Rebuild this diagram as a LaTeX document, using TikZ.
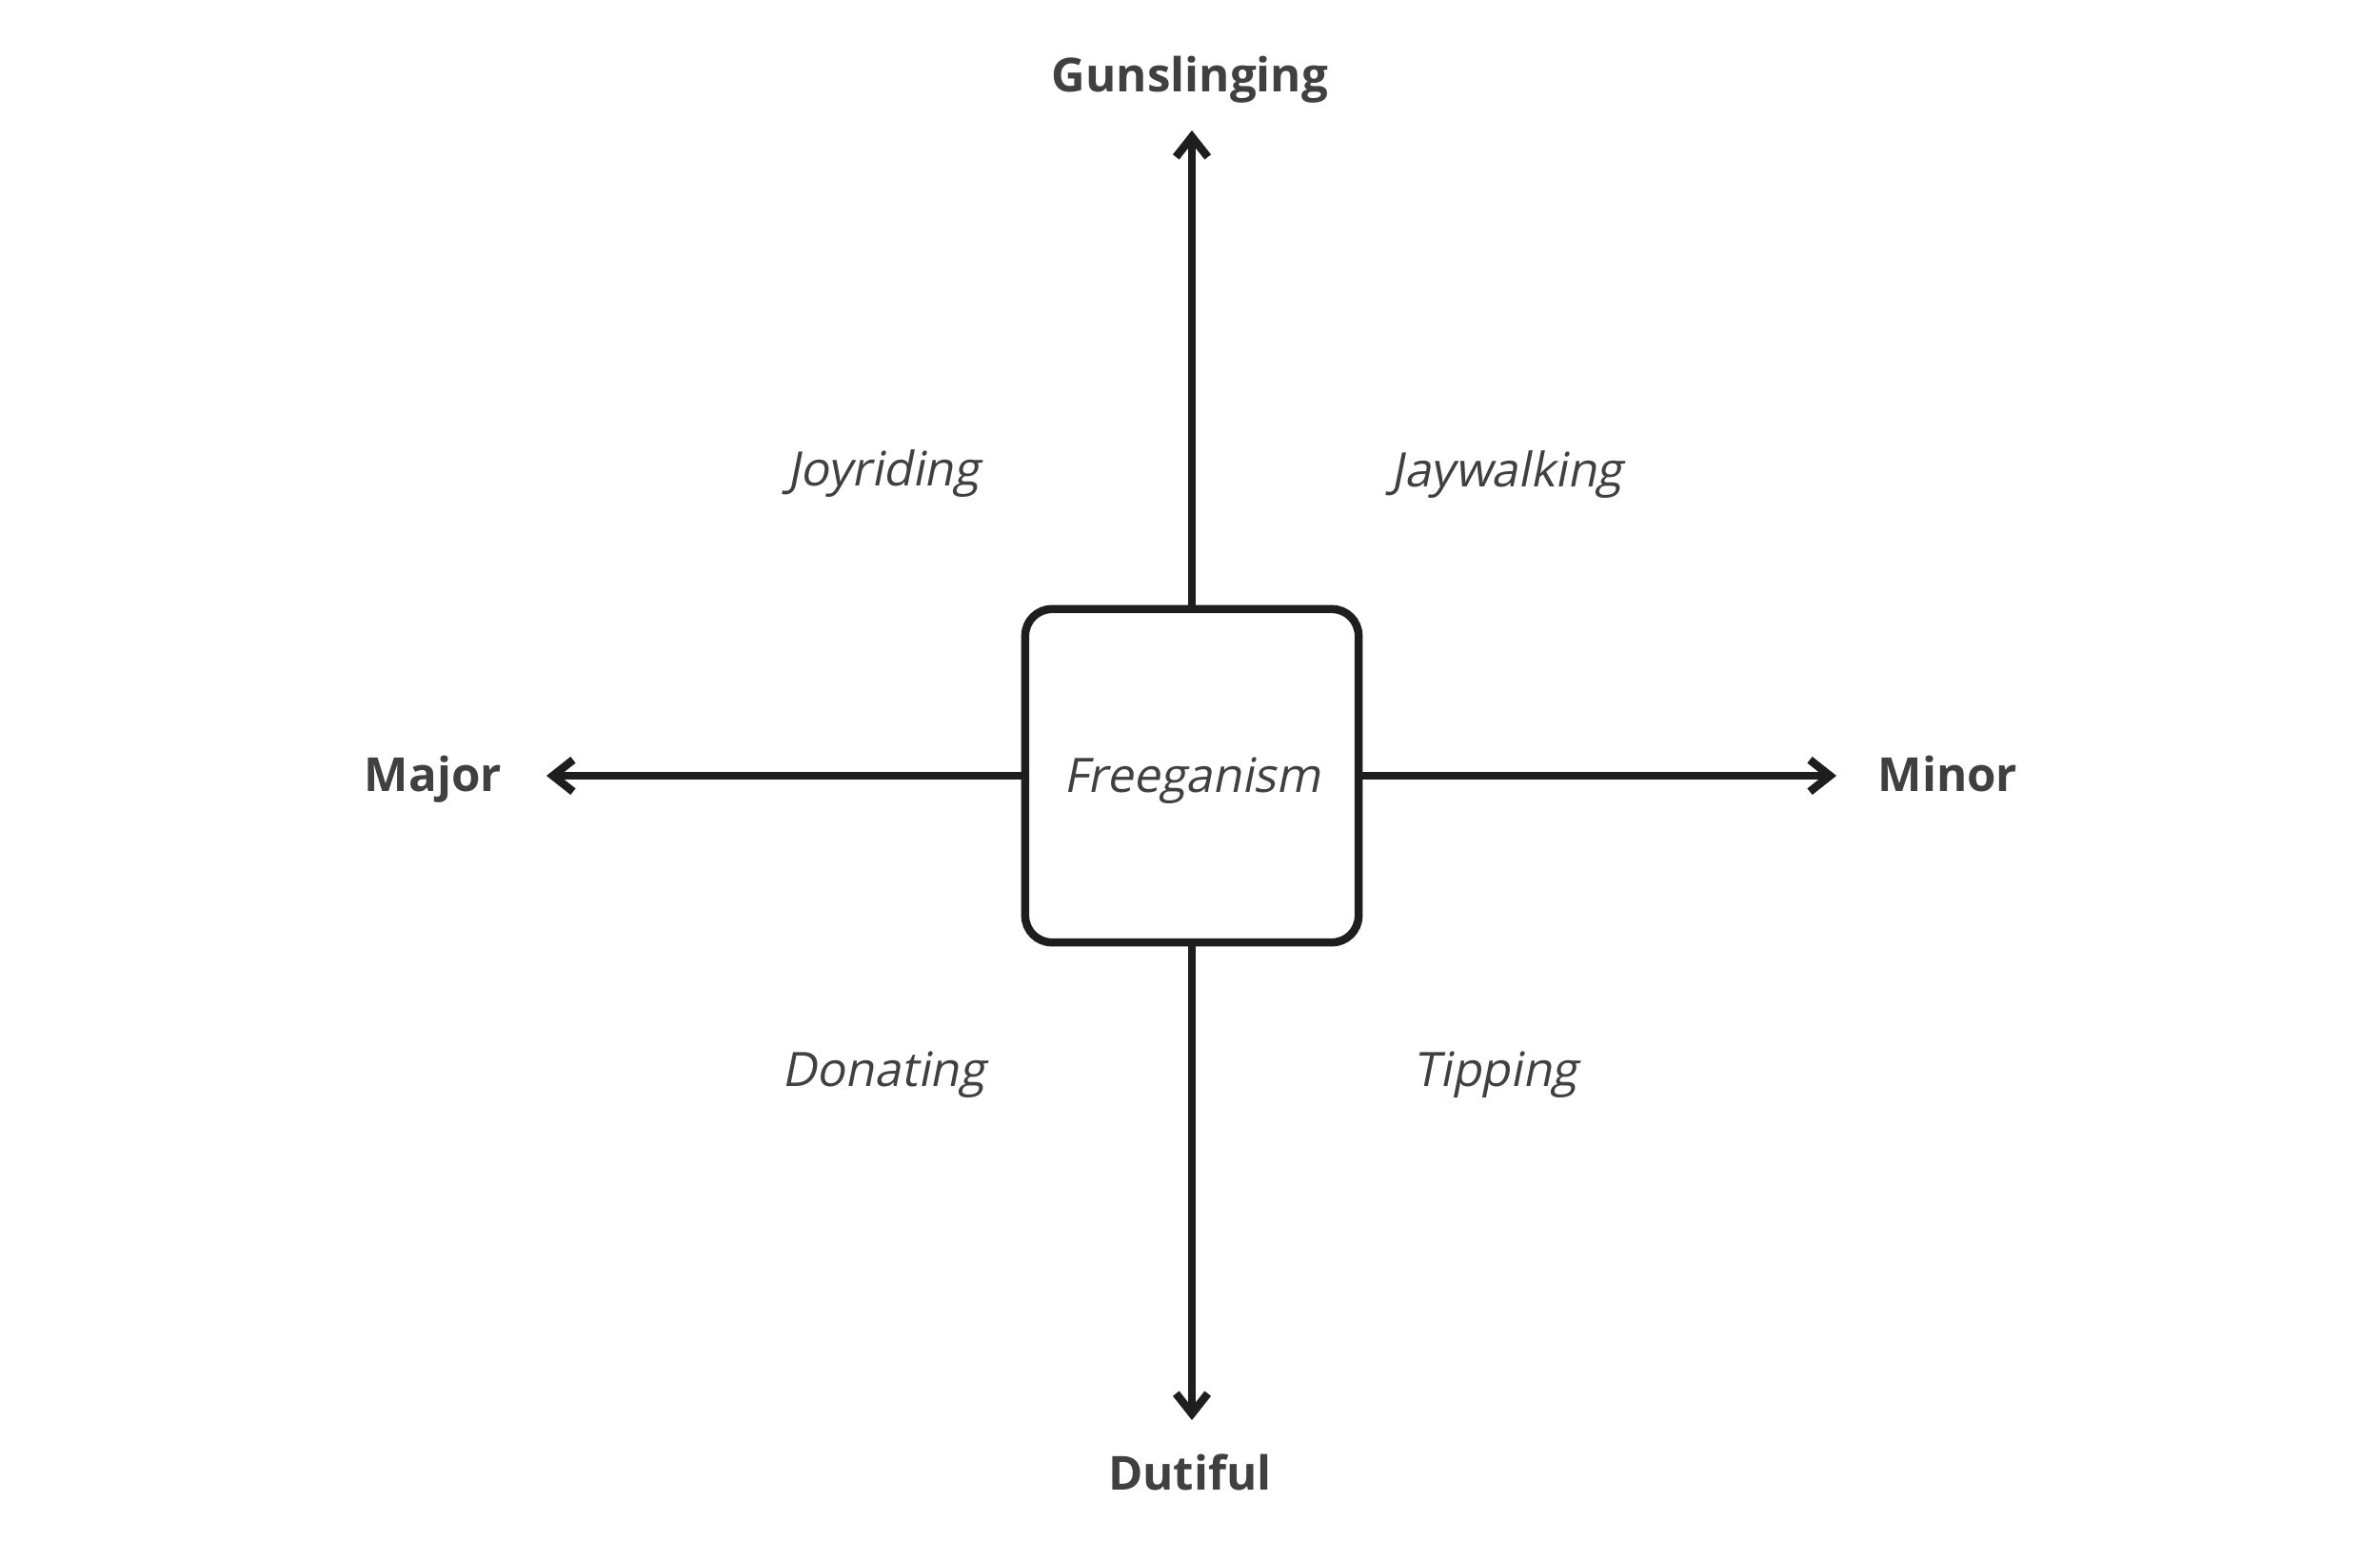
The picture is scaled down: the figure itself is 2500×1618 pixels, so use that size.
\documentclass[tikz,border=0pt]{standalone}
\usepackage{fontspec}
\setmainfont{Open Sans}
\newfontfamily\oblfont[FakeSlant=0.2]{Open Sans}
\usetikzlibrary{arrows.meta}
\definecolor{txt}{HTML}{404040}
\definecolor{ink}{HTML}{1E1E1E}
\begin{document}
\begin{tikzpicture}[x=0.01cm,y=-0.01cm,
  lbl/.style={font=\fontsize{14pt}{17pt}\selectfont\bfseries, text=txt, anchor=base, inner sep=0pt},
  quad/.style={font=\fontsize{14.2pt}{17pt}\oblfont, text=txt, anchor=base, inner sep=0pt},
  centerbox/.style={draw=ink, line width=2.42pt, rounded corners=0.28cm, minimum width=3.5cm, minimum height=3.5cm, inner sep=0pt, text height=10.2pt, text depth=0pt, font=\fontsize{14.2pt}{17pt}\oblfont, text=txt},
  axis/.style={draw=ink, line width=2.42pt, -{Straight Barb[length=6pt,width=9.5pt,line width=2.42pt]}}
]
\useasboundingbox (0,0) rectangle (2500,1618);
\fill[white] (0,0) rectangle (2500,1618);
\node[centerbox] (box) at (1252,815) {Freeganism};
\coordinate (top) at (1252,137);
\coordinate (bot) at (1252,1492);
\coordinate (lft) at (574,815);
\coordinate (rgt) at (1929,815);
\draw[axis] (box.north) -- (top);
\draw[axis] (box.south) -- (bot);
\draw[axis] (box.west) -- (lft);
\draw[axis] (box.east) -- (rgt);
\node[lbl] (gun) at (1250,97) {Gunslinging};
\node[lbl] (dut) at (1250,1565) {Dutiful};
\node[lbl] (maj) at (455,831) {Major};
\node[lbl] (min) at (2046,831) {Minor};
\node[quad] (joy) at (928,510) {Joyriding};
\node[quad] (jay) at (1583,511) {Jaywalking};
\node[quad] (don) at (928,1141) {Donating};
\node[quad] (tip) at (1571,1141) {Tipping};
\end{tikzpicture}
\end{document}
